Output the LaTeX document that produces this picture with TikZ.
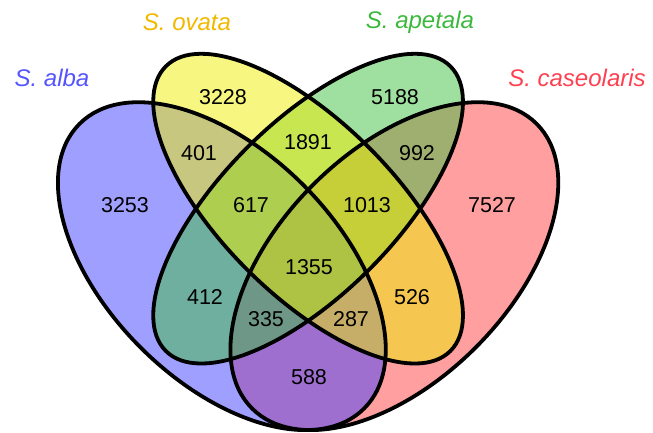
\documentclass[tikz,border=0pt]{standalone}
\usepackage{fontspec}
\setmainfont{Liberation Sans}
\definecolor{albaF}{RGB}{64,64,255}
\definecolor{ovataF}{RGB}{238,238,2}
\definecolor{apetalaF}{RGB}{64,192,64}
\definecolor{caseoF}{RGB}{255,64,64}
\definecolor{albaT}{RGB}{85,85,255}
\definecolor{ovataT}{RGB}{240,185,0}
\definecolor{apetalaT}{RGB}{60,185,60}
\definecolor{caseoT}{RGB}{255,64,80}
\begin{document}
\begin{tikzpicture}[x=1bp,y=-1bp,
  setfill/.style={fill opacity=0.5, draw=none},
  setline/.style={draw=black, line width=3.8bp, fill=none},
  num/.style={font=\fontsize{21.5bp}{25bp}\selectfont, inner sep=0pt, text=black},
  cat/.style={font=\fontsize{24bp}{28bp}\selectfont\itshape, inner sep=0pt}]
\useasboundingbox (0,0) rectangle (653,433);
\coordinate (cAlba) at (221.85,266.15);
\coordinate (cMid) at (308.1,208.65);
\coordinate (cCase) at (394.35,266.15);
% fills
\fill[setfill, caseoF, rotate around={45:(cCase)}] (cCase) ellipse [x radius=201.25bp, y radius=115bp];
\fill[setfill, albaF, rotate around={-45:(cAlba)}] (cAlba) ellipse [x radius=201.25bp, y radius=115bp];
\fill[setfill, apetalaF, rotate around={45:(cMid)}] (cMid) ellipse [x radius=201.25bp, y radius=86.25bp];
\fill[setfill, ovataF, rotate around={-45:(cMid)}] (cMid) ellipse [x radius=201.25bp, y radius=86.25bp];
% outlines
\draw[setline, rotate around={45:(cCase)}] (cCase) ellipse [x radius=201.25bp, y radius=115bp];
\draw[setline, rotate around={-45:(cAlba)}] (cAlba) ellipse [x radius=201.25bp, y radius=115bp];
\draw[setline, rotate around={45:(cMid)}] (cMid) ellipse [x radius=201.25bp, y radius=86.25bp];
\draw[setline, rotate around={-45:(cMid)}] (cMid) ellipse [x radius=201.25bp, y radius=86.25bp];
% numbers
\node[num] (n3228) at (223,97) {3228};
\node[num] (n5188) at (395,97) {5188};
\node[num] (n401) at (199,153) {401};
\node[num] (n1891) at (308,142) {1891};
\node[num] (n992) at (417,153) {992};
\node[num] (n3253) at (125,205) {3253};
\node[num] (n617) at (251,205) {617};
\node[num] (n1013) at (367,205) {1013};
\node[num] (n7527) at (492,205) {7527};
\node[num] (n1355) at (309,267) {1355};
\node[num] (n412) at (205,297) {412};
\node[num] (n526) at (412,297) {526};
\node[num] (n335) at (266,319) {335};
\node[num] (n287) at (351,319) {287};
\node[num] (n588) at (309,377) {588};
% category labels
\node[cat, text=albaT] (lAlba) at (52,78) {S. alba};
\node[cat, text=ovataT] (lOvata) at (187,22) {S. ovata};
\node[cat, text=apetalaT] (lApetala) at (420,22) {S. apetala};
\node[cat, text=caseoT] (lCase) at (577,78) {S. caseolaris};
\end{tikzpicture}
\end{document}
